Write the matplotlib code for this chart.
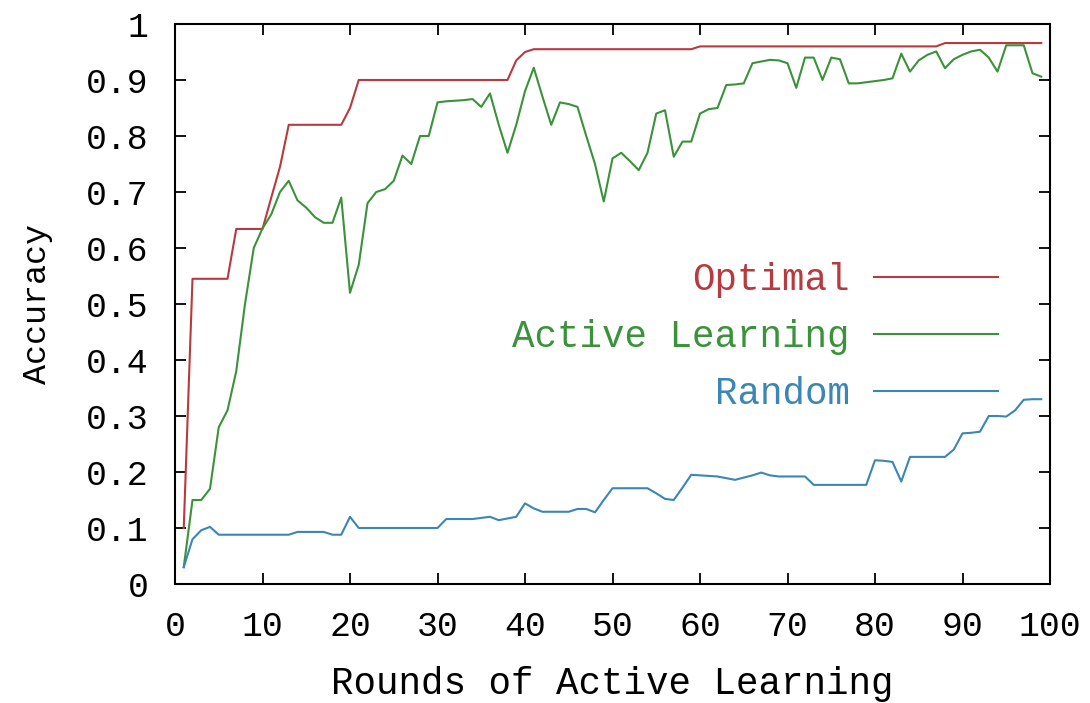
import matplotlib
matplotlib.use("Agg")
import matplotlib.pyplot as plt

FONT = "Liberation Mono"
TICK_FS = 25
LABEL_FS = 27

rounds = list(range(1, 100))

optimal = [
    0.10, 0.545, 0.545, 0.545, 0.545, 0.545, 0.634, 0.634, 0.634, 0.634,
    0.69, 0.745, 0.82, 0.82, 0.82, 0.82, 0.82, 0.82, 0.82, 0.85,
    0.90, 0.90, 0.90, 0.90, 0.90, 0.90, 0.90, 0.90, 0.90, 0.90,
    0.90, 0.90, 0.90, 0.90, 0.90, 0.90, 0.90, 0.90, 0.935, 0.95,
    0.955, 0.955, 0.955, 0.955, 0.955, 0.955, 0.955, 0.955, 0.955, 0.955,
    0.955, 0.955, 0.955, 0.955, 0.955, 0.955, 0.955, 0.955, 0.955, 0.96,
    0.96, 0.96, 0.96, 0.96, 0.96, 0.96, 0.96, 0.96, 0.96, 0.96,
    0.96, 0.96, 0.96, 0.96, 0.96, 0.96, 0.96, 0.96, 0.96, 0.96,
    0.96, 0.96, 0.96, 0.96, 0.96, 0.96, 0.96, 0.966, 0.966, 0.966,
    0.966, 0.966, 0.966, 0.966, 0.966, 0.966, 0.966, 0.966, 0.966,
]

active = [
    0.03, 0.15, 0.15, 0.17, 0.28, 0.31, 0.38, 0.50, 0.60, 0.635,
    0.66, 0.70, 0.72, 0.685, 0.672, 0.655, 0.645, 0.645, 0.69, 0.52,
    0.57, 0.68, 0.70, 0.705, 0.72, 0.765, 0.75, 0.80, 0.80, 0.86,
    0.862, 0.863, 0.864, 0.866, 0.852, 0.876, 0.82, 0.77, 0.82, 0.88,
    0.922, 0.87, 0.82, 0.86, 0.857, 0.852, 0.80, 0.75, 0.683, 0.76,
    0.77, 0.755, 0.739, 0.77, 0.84, 0.846, 0.763, 0.79, 0.79, 0.84,
    0.848, 0.85, 0.891, 0.892, 0.894, 0.93, 0.933, 0.936, 0.935, 0.93,
    0.886, 0.94, 0.94, 0.90, 0.94, 0.937, 0.894, 0.894, 0.896, 0.898,
    0.90, 0.903, 0.947, 0.915, 0.935, 0.945, 0.951, 0.921, 0.937, 0.945,
    0.951, 0.954, 0.94, 0.915, 0.962, 0.962, 0.962, 0.912, 0.906,
]

random_ = [
    0.03, 0.08, 0.096, 0.102, 0.088, 0.088, 0.088, 0.088, 0.088, 0.088,
    0.088, 0.088, 0.088, 0.093, 0.093, 0.093, 0.093, 0.088, 0.088, 0.12,
    0.10, 0.10, 0.10, 0.10, 0.10, 0.10, 0.10, 0.10, 0.10, 0.10,
    0.116, 0.116, 0.116, 0.116, 0.118, 0.12, 0.114, 0.117, 0.12, 0.144,
    0.135, 0.129, 0.129, 0.129, 0.129, 0.134, 0.134, 0.128, 0.15, 0.171,
    0.171, 0.171, 0.171, 0.171, 0.162, 0.152, 0.15, 0.172, 0.195, 0.194,
    0.193, 0.192, 0.189, 0.186, 0.19, 0.194, 0.199, 0.194, 0.192, 0.192,
    0.192, 0.192, 0.177, 0.177, 0.177, 0.177, 0.177, 0.177, 0.177, 0.221,
    0.22, 0.218, 0.183, 0.227, 0.227, 0.227, 0.227, 0.227, 0.24, 0.269,
    0.27, 0.272, 0.30, 0.30, 0.299, 0.31, 0.329, 0.33, 0.33,
]

labels = ["Optimal", "Active Learning", "Random"]
colors = ["#b83a3e", "#3a923a", "#3a86b4"]

plt.rcParams["font.family"] = [FONT, "DejaVu Sans"]

fig = plt.figure(figsize=(10.9, 7.03), dpi=100)
ax = fig.add_axes([175 / 1090, 119 / 703, 875 / 1090, 560 / 703])

for ys, lab, col in zip([optimal, active, random_], labels, colors):
    ax.plot(rounds, ys, color=col, lw=1.5, label=lab)

ax.set_xlim(0, 100)
ax.set_ylim(0, 1)
ax.set_xticks(range(0, 101, 10))
ax.set_yticks([i / 10 for i in range(11)])
ax.set_yticklabels(["0"] + [f"0.{i}" for i in range(1, 10)] + ["1"])
ax.tick_params(direction="in", top=True, right=True, length=8, width=1.3,
               labelsize=TICK_FS, color="black")
ax.tick_params(axis="x", pad=19)
ax.tick_params(axis="y", pad=19)
for s in ax.spines.values():
    s.set_linewidth(1.5)

ax.set_xlabel("Rounds of Active Learning", fontsize=LABEL_FS, labelpad=16)
ax.set_ylabel("Accuracy", fontsize=24, labelpad=24)

ax.legend(loc="center right", bbox_to_anchor=((998 - 175) / 875, (584 - 337) / 560),
          frameon=False, markerfirst=False, labelcolor="linecolor",
          fontsize=LABEL_FS, handlelength=3.3, handletextpad=0.65,
          labelspacing=0.55, borderpad=0, borderaxespad=0)

fig.savefig("out.png", dpi=100)
